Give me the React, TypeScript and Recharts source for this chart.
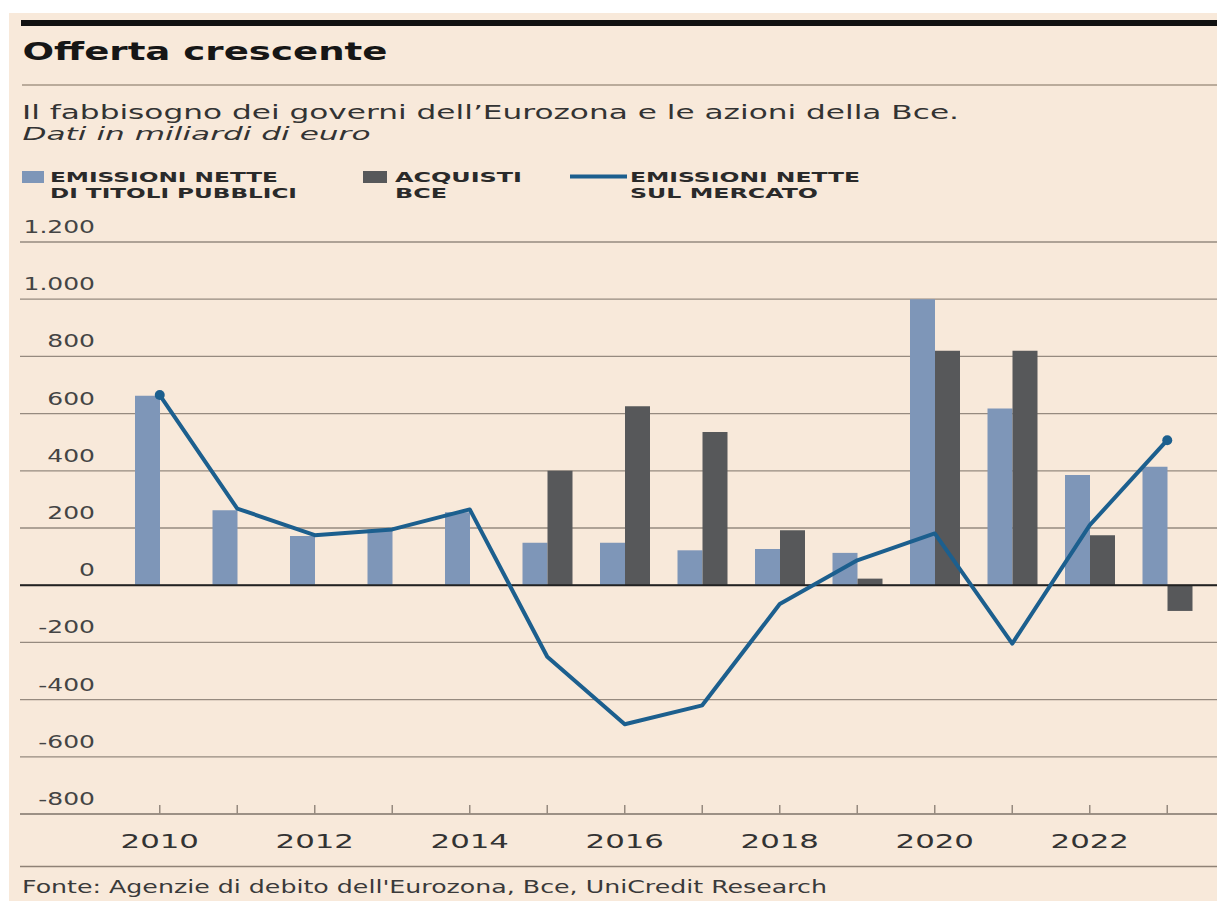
import React from "react";
import {
  ComposedChart,
  Bar,
  Line,
  XAxis,
  YAxis,
  CartesianGrid,
  ReferenceLine,
  Legend,
} from "recharts";

// Dati in miliardi di euro
const years = ["2010", "2011", "2012", "2013", "2014", "2015", "2016", "2017", "2018", "2019", "2020", "2021", "2022", "2023"];
const emissioniNette = [662, 262, 172, 195, 255, 148, 148, 122, 127, 113, 1000, 618, 385, 414];
const acquistiBce = [null, null, null, null, null, 400, 626, 536, 192, 23, 820, 820, 175, -90];
const emissioniMercato = [665, 268, 175, 195, 265, -250, -486, -420, -66, 87, 181, -204, 210, 507];
const yTicks = [-800, -600, -400, -200, 0, 200, 400, 600, 800, 1000, 1200];

const COL_LIGHT = "#7e96b8";
const COL_DARK = "#57585a";
const COL_LINE = "#1c5f8e";
const COL_GRID = "#968a7f";
const CREAM = "#f8e9da";
const FONT = "'DejaVu Sans', sans-serif";

const data = years.map((year, i) => ({
  year,
  emissioni: emissioniNette[i],
  acquisti: acquistiBce[i],
  mercato: emissioniMercato[i],
}));

function fmtIt(v: number): string {
  const s = String(Math.abs(v)).replace(/\B(?=(\d{3})+(?!\d))/g, ".");
  return v < 0 ? "-" + s : s;
}

const YTick = ({ x, y, payload }: any) => (
  <text
    transform={`translate(${x + 75},${y - 9}) scale(1.47,1)`}
    textAnchor="end"
    fontFamily={FONT}
    fontSize={17}
    fill="#444"
  >
    {fmtIt(payload.value)}
  </text>
);

const XTick = ({ x, y, payload }: any) => {
  const even = Number(payload.value) % 2 === 0;
  return (
    <g>
      <line x1={x} x2={x} y1={y} y2={y - 9} stroke={COL_GRID} strokeWidth={1.5} />
      {even && (
        <text
          transform={`translate(${x},${y + 34}) scale(1.58,1)`}
          textAnchor="middle"
          fontFamily={FONT}
          fontSize={19.5}
          fill="#333"
        >
          {payload.value}
        </text>
      )}
    </g>
  );
};

const EndDot = (props: any) => {
  const { cx, cy, index } = props;
  if (index === 0 || index === years.length - 1) {
    return <circle key={`d-${index}`} cx={cx} cy={cy} r={5} fill={COL_LINE} />;
  }
  return <g key={`d-${index}`} />;
};

// legend drawn in its own svg, top of the legend box = 160px
const LegendBox = () => {
  const t = (x: number, y: number, w: number, s: string) => (
    <text
      x={x}
      y={y - 160}
      textLength={w}
      lengthAdjust="spacingAndGlyphs"
      fontFamily={FONT}
      fontWeight={700}
      fontSize={14}
      fill="#2a2a2a"
    >
      {s}
    </text>
  );
  return (
    <svg width={1219} height={45} style={{ display: "block" }}>
      <rect x={22} y={171 - 160} width={22} height={12} fill={COL_LIGHT} />
      {t(50, 182, 228, "EMISSIONI NETTE")}
      {t(50, 198, 247, "DI TITOLI PUBBLICI")}
      <rect x={363} y={171 - 160} width={24} height={12} fill={COL_DARK} />
      {t(395, 182, 127, "ACQUISTI")}
      {t(395, 198, 52, "BCE")}
      <line x1={570} x2={627} y1={176.5 - 160} y2={176.5 - 160} stroke={COL_LINE} strokeWidth={4} />
      {t(630, 182, 230, "EMISSIONI NETTE")}
      {t(630, 198, 188, "SUL MERCATO")}
    </svg>
  );
};

export default function App() {
  return (
    <div style={{ position: "absolute", left: 0, top: 0, width: 1219, height: 901, background: "#fff", overflow: "hidden" }}>
      <div style={{ position: "absolute", left: 9, top: 13, width: 1208, height: 888, background: CREAM }} />
      <div style={{ position: "absolute", left: 0, top: 0 }}>
        <ComposedChart
          width={1219}
          height={901}
          data={data}
          margin={{ top: 242, right: 2, bottom: 57, left: 19 }}
          barGap={0}
          barSize={25}
        >
          <CartesianGrid horizontal vertical={false} stroke={COL_GRID} strokeWidth={1.3} />
          <XAxis
            dataKey="year"
            interval={0}
            height={30}
            padding={{ left: 101, right: 11 }}
            tickSize={0}
            tickMargin={0}
            tick={<XTick />}
            axisLine={{ stroke: COL_GRID, strokeWidth: 1.5 }}
            tickLine={false}
          />
          <YAxis
            type="number"
            domain={[-800, 1200]}
            ticks={yTicks}
            width={1}
            tickSize={0}
            tickMargin={0}
            axisLine={false}
            tickLine={false}
            tick={<YTick />}
          />
          <Legend
            layout="horizontal"
            verticalAlign="middle"
            align="center"
            content={() => <LegendBox />}
            wrapperStyle={{ top: 160, left: 0, width: 1219, height: 45 }}
          />
          <ReferenceLine y={0} stroke="#222" strokeWidth={2} />
          <Bar dataKey="emissioni" name="Emissioni nette di titoli pubblici" fill={COL_LIGHT} isAnimationActive={false} />
          <Bar dataKey="acquisti" name="Acquisti Bce" fill={COL_DARK} isAnimationActive={false} />
          <Line
            type="linear"
            dataKey="mercato"
            name="Emissioni nette sul mercato"
            stroke={COL_LINE}
            strokeWidth={4}
            strokeLinejoin="round"
            dot={EndDot}
            activeDot={false}
            isAnimationActive={false}
          />
        </ComposedChart>
      </div>
      <svg width={1219} height={901} style={{ position: "absolute", left: 0, top: 0, pointerEvents: "none" }}>
        <rect x={21} y={20} width={1196} height={6} fill="#111" />
        <text x={22.5} y={60} textLength={365} lengthAdjust="spacingAndGlyphs" fontFamily={FONT} fontWeight={700} fontSize={25} fill="#161616">
          Offerta crescente
        </text>
        <line x1={22} x2={1217} y1={85} y2={85} stroke="#a69686" strokeWidth={1.5} />
        <text x={22} y={119} textLength={937} lengthAdjust="spacingAndGlyphs" fontFamily={FONT} fontSize={19} fill="#333">
          Il fabbisogno dei governi dell’Eurozona e le azioni della Bce.
        </text>
        <text x={22.5} y={140} textLength={348} lengthAdjust="spacingAndGlyphs" fontFamily={FONT} fontStyle="italic" fontSize={17} fill="#333">
          Dati in miliardi di euro
        </text>
        <line x1={20} x2={1217} y1={866.5} y2={866.5} stroke="#8f8276" strokeWidth={1.5} />
        <text x={22} y={893} textLength={805} lengthAdjust="spacingAndGlyphs" fontFamily={FONT} fontSize={17.5} fill="#3a3a3a">
          Fonte: Agenzie di debito dell'Eurozona, Bce, UniCredit Research
        </text>
      </svg>
    </div>
  );
}
